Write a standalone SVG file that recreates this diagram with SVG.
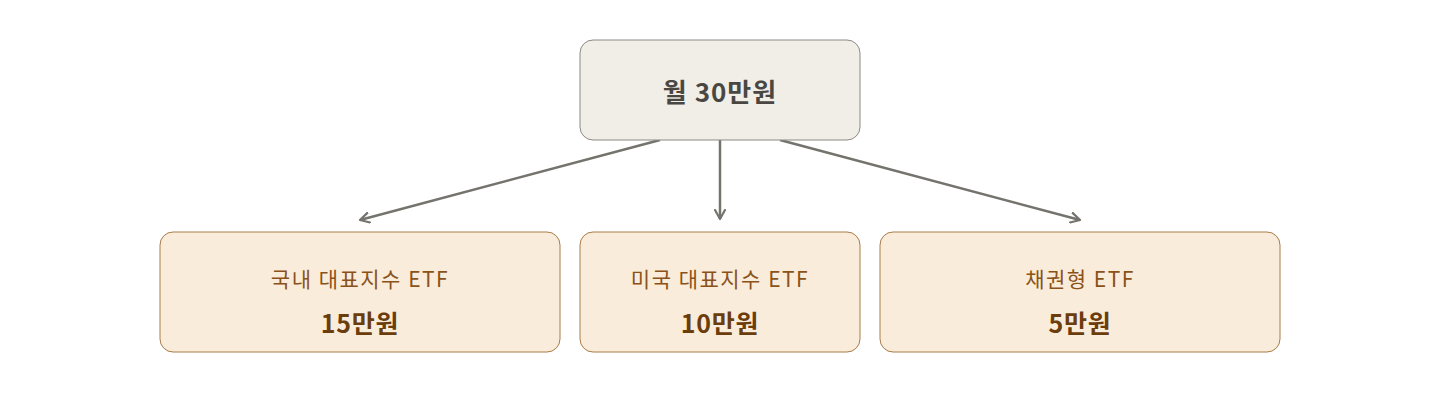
<svg xmlns="http://www.w3.org/2000/svg" width="1440" height="400" viewBox="0 0 1440 400">
<style>
.top{fill:#f1eee7;stroke:#8d8a84;stroke-width:1}
.box{fill:#faecda;stroke:#a87c48;stroke-width:1}
text{font-family:"Noto Sans CJK KR","Noto Sans",sans-serif;text-anchor:middle}
.t0{font-size:26px;font-weight:600;fill:#4a4742;letter-spacing:1px}
.sub{font-size:21px;fill:#8a5219;letter-spacing:1.5px}
.val{font-size:25px;font-weight:700;fill:#6b3c0c;letter-spacing:0.8px}
.edge{stroke:#75736d;stroke-width:2.5;fill:none}
</style>
<defs>
<marker id="arr" viewBox="0 0 12 12" refX="10" refY="6" markerWidth="12" markerHeight="12" markerUnits="userSpaceOnUse" orient="auto">
<path d="M1,1 L10,6 L1,11" fill="none" stroke="#75736d" stroke-width="2.2" stroke-linecap="round" stroke-linejoin="round"/>
</marker>
</defs>
<rect width="1440" height="400" fill="#ffffff"/>
<g id="connectors">
<line class="edge" x1="660" y1="140" x2="360" y2="220" marker-end="url(#arr)"/>
<line class="edge" x1="720" y1="140" x2="720" y2="219" marker-end="url(#arr)"/>
<line class="edge" x1="780" y1="140" x2="1080" y2="220" marker-end="url(#arr)"/>
</g>
<g id="root">
<rect class="top" x="580" y="40" width="280" height="100" rx="13"/>
<text class="t0" x="720" y="102">월 30만원</text>
</g>
<g id="domestic">
<rect class="box" x="160" y="232" width="400" height="120" rx="13"/>
<text class="sub" x="360" y="287">국내 대표지수 ETF</text>
<text class="val" x="360" y="333">15만원</text>
</g>
<g id="us">
<rect class="box" x="580" y="232" width="280" height="120" rx="13"/>
<text class="sub" x="720" y="287">미국 대표지수 ETF</text>
<text class="val" x="720" y="333">10만원</text>
</g>
<g id="bond">
<rect class="box" x="880" y="232" width="400" height="120" rx="13"/>
<text class="sub" x="1080" y="287">채권형 ETF</text>
<text class="val" x="1080" y="333">5만원</text>
</g>
</svg>
